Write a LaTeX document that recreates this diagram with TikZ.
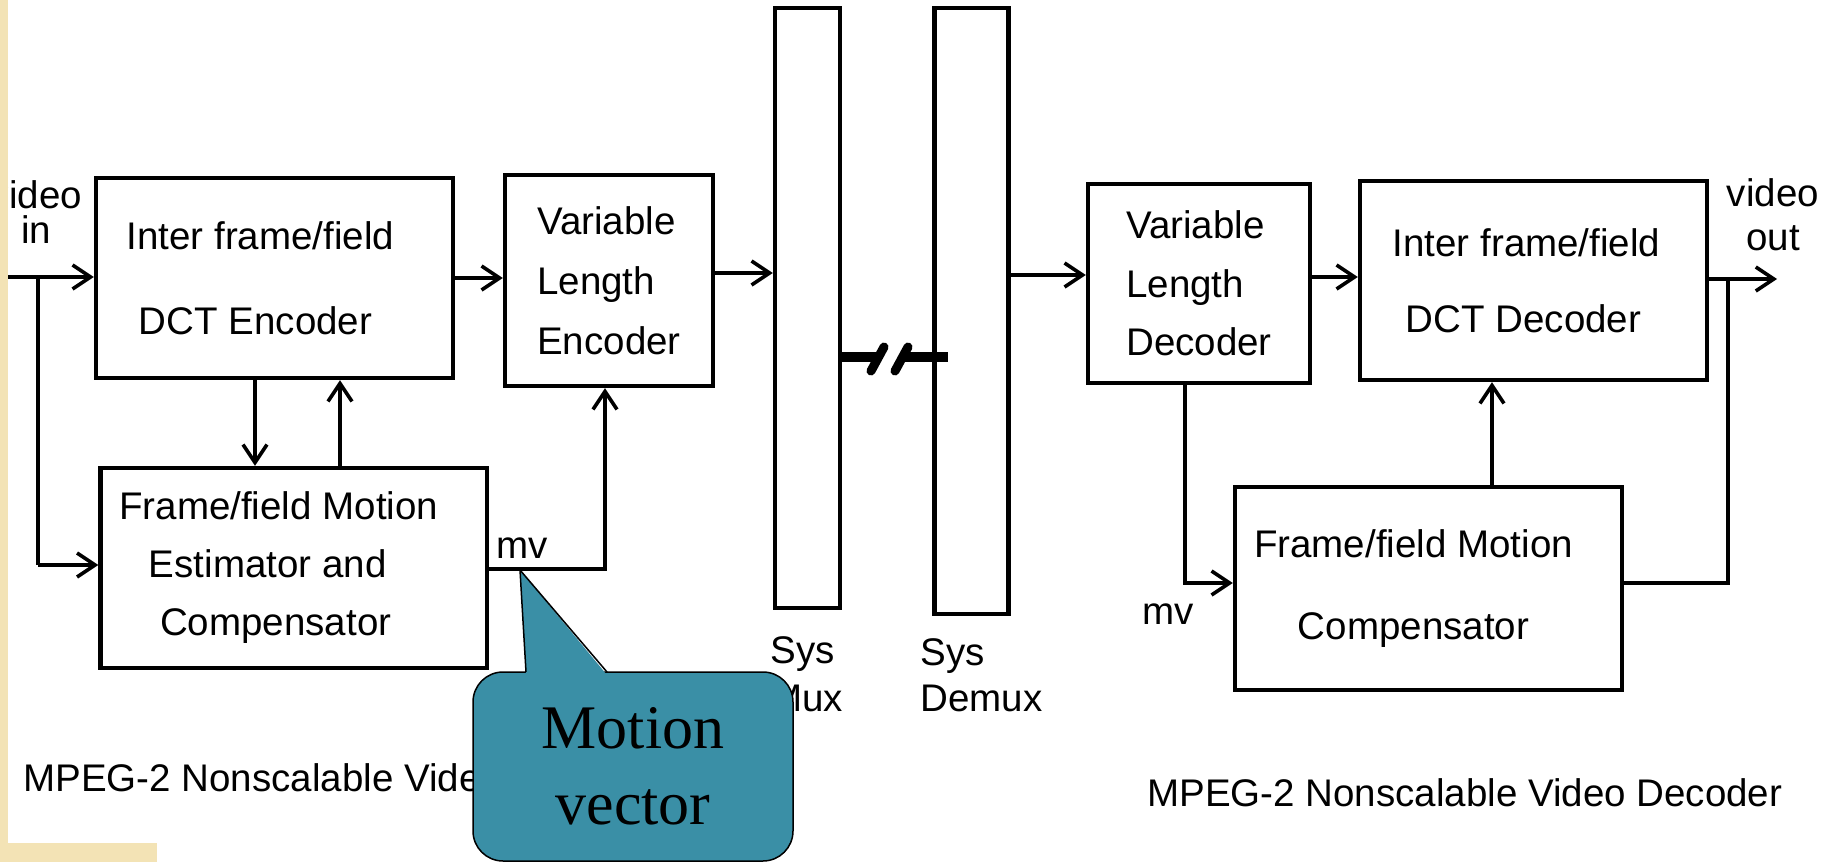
\documentclass[tikz,border=0pt]{standalone}
\usepackage{fontspec}
\setmainfont{Liberation Sans}
\newfontfamily\serifcv{Liberation Serif}
\usetikzlibrary{arrows.meta}
\definecolor{tanbg}{RGB}{243,227,181}
\definecolor{calloutteal}{RGB}{58,143,166}
\begin{document}
\begin{tikzpicture}[x=0.5pt,y=-0.5pt,
  blk/.style={draw, line width=2.2pt, inner sep=0pt, font=\fontsize{19.25}{#1}\selectfont},
  bar/.style={draw, line width=2.2pt, inner sep=0pt},
  conn/.style={line width=1.8pt},
  arr/.style={conn, -{Straight Barb[length=9pt,width=12pt]}},
  lbl/.style={inner sep=0pt, font=\fontsize{19.25}{#1}\selectfont},
  lbl/.default=23,
  brk/.style={line width=5pt},
  slash/.style={line width=4.5pt, line cap=round}]
\useasboundingbox (0,0) rectangle (1833,862);
\fill[white] (0,0) rectangle (1833,862);
\clip (0,0) rectangle (1833,862);

% ---------- encoder side ----------
\node[blk=42.5, minimum width=178.5pt, minimum height=100pt, align=center] (enc) at (274.5,278) {Inter frame/field\kern14pt\mbox{}\\DCT Encoder\kern19pt\mbox{}};
\node[blk=30, minimum width=104pt, minimum height=105.5pt, align=left] (vle) at (609,280.5) {Variable\\Length\\Encoder};
\node[blk=29, minimum width=193.25pt, minimum height=100pt, align=center] (me) at (293.75,568) {Frame/field Motion\kern15pt\mbox{}\\Estimator and\kern26pt\mbox{}\\Compensator\kern18pt\mbox{}};

% ---------- system mux / demux ----------
\node[bar, minimum width=32.5pt, minimum height=300pt] (mux) at (807.5,308) {};
\node[bar, minimum width=37pt, minimum height=303pt] (demux) at (971.5,311) {};

% ---------- decoder side ----------
\node[blk=29.25, minimum width=111pt, minimum height=99.5pt, align=left] (vld) at (1199,283.5) {Variable\\Length\\Decoder};
\node[blk=38, minimum width=173.5pt, minimum height=99.5pt, align=center] (dec) at (1533.5,280.5) {Inter frame/field\kern7pt\mbox{}\\DCT Decoder\kern10pt\mbox{}};
\node[blk=41, minimum width=193.5pt, minimum height=101.5pt, align=center] (mc) at (1428.5,588.5) {Frame/field Motion\kern15pt\mbox{}\\Compensator\kern15pt\mbox{}};

% ---------- helper coordinates ----------
\coordinate (vin) at (0,277);
\coordinate (br) at (38,277);
\coordinate (brlo) at (38,565);
\coordinate (c1) at (255,0);
\coordinate (c2) at (340,0);
\coordinate (c3) at (605,0);
\coordinate (mvy) at (0,569);
\coordinate (y273) at (0,273);
\coordinate (y275) at (0,275);
\coordinate (y277) at (0,277);
\coordinate (y357) at (0,357);
\coordinate (brkA) at (878,357);
\coordinate (brkB) at (904,357);
\coordinate (brkC) at (948,357);
\coordinate (vout) at (1777,279);
\coordinate (c4) at (1728,0);
\coordinate (c5) at (1492,0);
\coordinate (c6) at (1185,0);
\coordinate (y583) at (0,583);

% ---------- encoder connectors ----------
\draw[arr] (vin) -- (vin -| enc.west);
\draw[conn] (br) -- (brlo);
\draw[arr] (brlo) -- (brlo -| me.west);
\draw[arr] (enc.south -| c1) -- (me.north -| c1);
\draw[arr] (me.north -| c2) -- (enc.south -| c2);
\draw[arr] (enc.east) -- (enc.east -| vle.west);
\draw[arr] (me.east |- mvy) -| (vle.south -| c3);
\draw[arr] (vle.east |- y273) -- (mux.west |- y273);

% ---------- channel break ----------
\draw[brk] (mux.east |- y357) -- (brkA);
\draw[slash] (871,371) -- (884,347);
\draw[slash] (895,371) -- (908,347);
\draw[brk] (brkB) -- (brkC);

% ---------- decoder connectors ----------
\draw[arr] (demux.east |- y275) -- (vld.west |- y275);
\draw[arr] (vld.east |- y277) -- (dec.west |- y277);
\draw[arr] (dec.east |- vout) -- (vout);
\draw[conn] (c4 |- vout) -- (c4 |- y583) -- (mc.east |- y583);
\draw[arr] (mc.north -| c5) -- (dec.south -| c5);
\draw[arr] (vld.south -| c6) |- (mc.west |- y583);

% ---------- labels ----------
\node[lbl=17.5, align=center] (vinl) at (36,212) {video\\in};
\node[lbl=22, align=center] (voutl) at (1773,215) {video\\out};
\node[lbl] (mve) at (522.5,548) {mv};
\node[lbl] (mvd) at (1168,614) {mv};
\node[lbl=24, align=left, anchor=west] (muxl) at (770,674) {Sys\\Mux};
\node[lbl=23, align=left, anchor=west] (demuxl) at (920,675) {Sys\\Demux};
\node[lbl, anchor=west] (capenc) at (23,778) {MPEG-2 Nonscalable Video Encoder};
\node[lbl, anchor=west] (capdec) at (1147,793) {MPEG-2 Nonscalable Video Decoder};

% ---------- slide border strips ----------
\fill[tanbg] (0,0) rectangle (8,862);
\fill[tanbg] (0,843) rectangle (157,862);

% ---------- callout ----------
\node[draw=black, line width=0.75pt, fill=calloutteal, rounded corners=15pt,
      minimum width=160pt, minimum height=94.5pt, inner sep=0pt, align=center,
      font=\serifcv\fontsize{31}{38}\selectfont] (cv) at (633,766.5) {Motion\\vector};
\coordinate (tip) at (520,570);
\coordinate (pa) at (526,672);
\coordinate (pb) at (607,672);
\fill[calloutteal] ([yshift=-1.5pt]pa) -- (tip) -- ([yshift=-1.5pt]pb) -- cycle;
\draw[line width=0.75pt, line join=round] (pa) -- (tip) -- (pb);
\end{tikzpicture}
\end{document}
